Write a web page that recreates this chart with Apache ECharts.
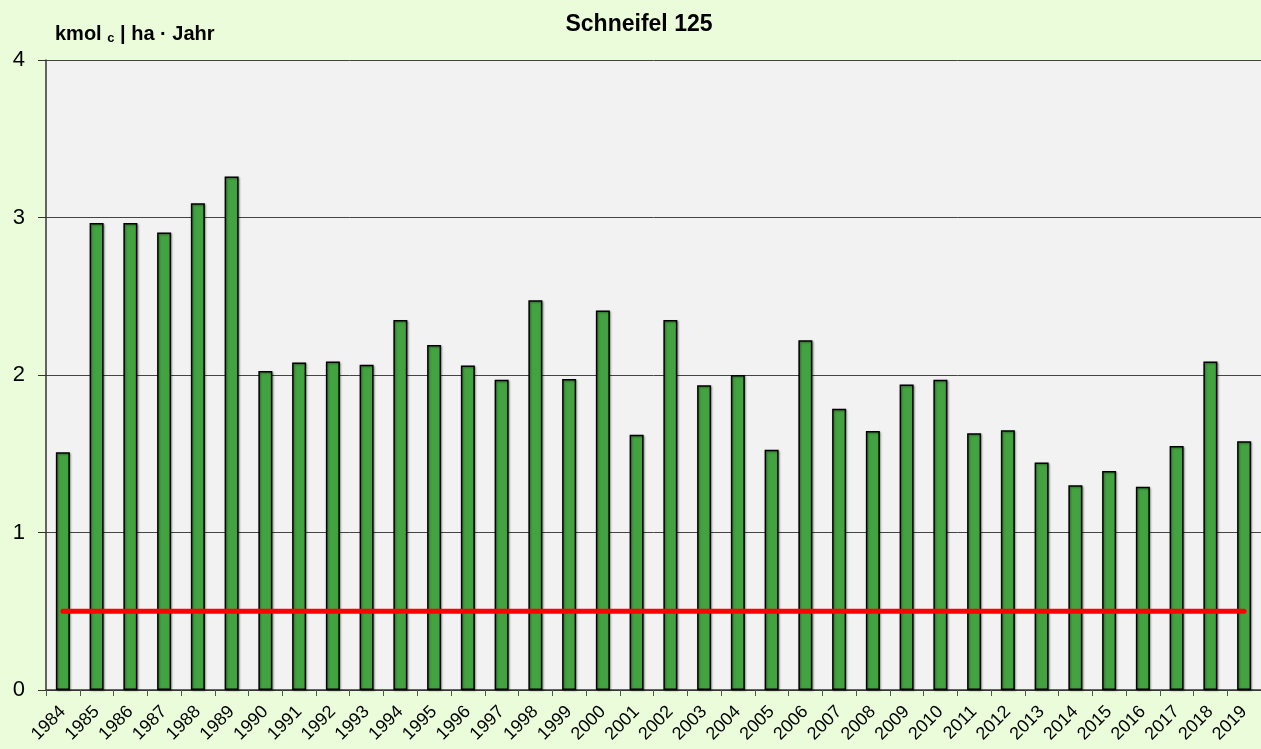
<!DOCTYPE html>
<html><head><meta charset="utf-8">
<script src="https://cdn.jsdelivr.net/npm/echarts@6/dist/echarts.min.js"></script>
<style>html,body{margin:0;padding:0;background:#EBFCDB;}#c{width:1261px;height:749px;}</style>
</head><body><div id="c"></div>
<script>
const years = ['1984','1985','1986','1987','1988','1989','1990','1991','1992','1993','1994','1995','1996','1997','1998','1999','2000','2001','2002','2003','2004','2005','2006','2007','2008','2009','2010','2011','2012','2013','2014','2015','2016','2017','2018','2019'];
const values = [1.51,2.965,2.965,2.905,3.09,3.26,2.025,2.08,2.085,2.065,2.35,2.19,2.06,1.97,2.475,1.975,2.41,1.62,2.35,1.935,2.0,1.525,2.22,1.785,1.645,1.94,1.97,1.63,1.65,1.445,1.3,1.39,1.29,1.55,2.085,1.58];
const threshold = years.map(() => 0.5);
const yTicks = [0,1,2,3,4];

const chart = echarts.init(document.getElementById('c'));
chart.setOption({
  backgroundColor: '#EBFCDB',
  animation: false,
  title: {
    text: 'Schneifel 125', left: 634, top: 8, textAlign: 'center',
    textStyle: {fontFamily: 'Liberation Sans', fontSize: 23, fontWeight: 'bold', color: '#000'}
  },
  graphic: [{
    type: 'text', left: 55, top: 24,
    style: {
      text: '{a|kmol }{s|c}{a| | ha · Jahr}',
      rich: {
        a: {fontFamily: 'Liberation Sans', fontSize: 20, fontWeight: 'bold', fill: '#000', color: '#000'},
        s: {fontFamily: 'Liberation Sans', fontSize: 13, fontWeight: 'bold', fill: '#000', color: '#000', verticalAlign: 'bottom', padding: [8,0,0,0]}
      }
    }
  }],
  grid: {left: 46, right: 0, top: 60, bottom: 59, backgroundColor: '#F2F2F2', show: true, borderWidth: 0},
  xAxis: {
    type: 'category', data: years, boundaryGap: true,
    axisLine: {lineStyle: {color: '#333', width: 1.5}},
    axisTick: {show: true, alignWithLabel: false, length: 6, lineStyle: {color: '#555'}},
    axisLabel: {rotate: 45, fontFamily: 'Liberation Sans', fontSize: 18, color: '#000', margin: 19, interval: 0}
  },
  yAxis: {
    type: 'value', min: yTicks[0], max: yTicks[yTicks.length-1], interval: 1,
    axisLine: {show: true, lineStyle: {color: '#333', width: 1.5}},
    axisTick: {show: true, length: 8, lineStyle: {color: '#333'}},
    axisLabel: {fontFamily: 'Liberation Sans', fontSize: 22, color: '#000', margin: 21},
    splitLine: {show: true, lineStyle: {color: '#444', width: 1}}
  },
  series: [{
    type: 'bar', data: values, barWidth: 14,
    itemStyle: {color: '#43A340', borderColor: '#000', borderWidth: 1.5, shadowColor: 'rgba(0,0,0,0.35)', shadowBlur: 2, shadowOffsetX: 1, shadowOffsetY: 1}
  }, {
    type: 'line', data: threshold, symbol: 'none',
    lineStyle: {color: '#FF0000', width: 5, cap: 'round'}, z: 5
  }]
});
</script></body></html>
